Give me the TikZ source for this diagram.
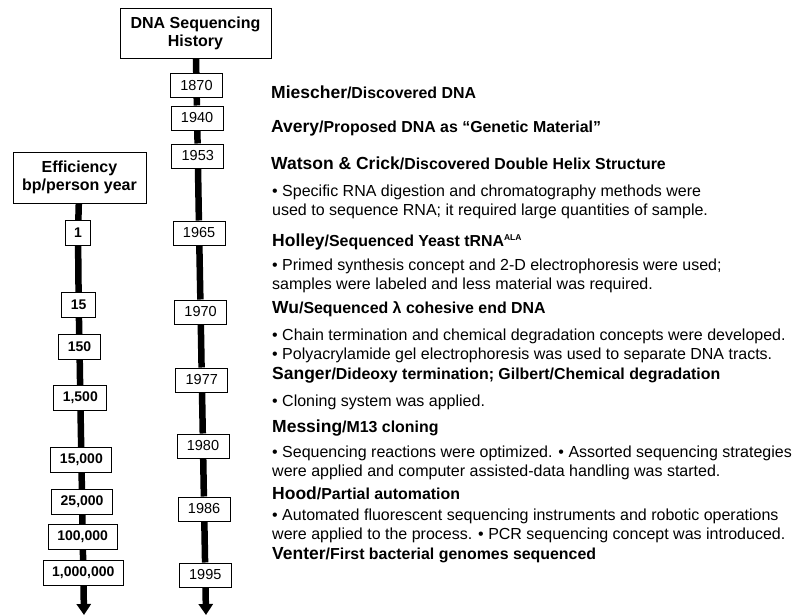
\documentclass[tikz,border=0pt]{standalone}
\usepackage{fontspec}
\setmainfont{Liberation Sans}
\usetikzlibrary{arrows.meta}

\newcommand{\bigname}[1]{{\fontsize{17.5}{19}\selectfont #1}}

\begin{document}
\begin{tikzpicture}[x=1pt,y=-1pt,
    title/.style={draw,fill=white,line width=1pt,align=center,font=\bfseries\fontsize{16}{18}\selectfont},
    yearbox/.style={draw,fill=white,line width=1pt,minimum width=52pt,minimum height=24pt,font=\fontsize{14.5}{16}\selectfont},
    ratebox/.style={draw,fill=white,line width=1pt,inner xsep=9pt,minimum height=25pt,font=\bfseries\fontsize{14}{16}\selectfont},
    spine/.style={line width=6.5pt},
    event/.style={anchor=west,inner sep=0pt,font=\bfseries\fontsize{15.9}{18}\selectfont},
    note/.style={anchor=west,inner sep=0pt,align=left,font=\fontsize{16}{19.5}\selectfont}]
  \useasboundingbox (0,0) rectangle (809,616);

  \node [title,minimum width=151pt,minimum height=50pt] at (195.5,33) (hist) {DNA Sequencing\\History};
  \node [title,minimum width=133pt,minimum height=51pt] at (79.5,177.5) (eff) {Efficiency\\bp/person year};

  % years
  \node [yearbox] at (196.5,85.5) (y1870) {1870};
  \node [yearbox] at (197.1,118) (y1940) {1940};
  \node [yearbox] at (197.8,156) (y1953) {1953};
  \node [yearbox] at (199.1,233) (y1965) {1965};
  \node [yearbox] at (200.6,312) (y1970) {1970};
  \node [yearbox] at (201.8,380) (y1977) {1977};
  \node [yearbox] at (203,446) (y1980) {1980};
  \node [yearbox] at (204.1,509) (y1986) {1986};
  \node [yearbox] at (205.3,575) (y1995) {1995};
  \coordinate (yend) at (206,615);

  % bp per person year
  \node [ratebox] at (78,233) (r1) {1};
  \node [ratebox] at (78.7,305) (r2) {15};
  \node [ratebox] at (79.5,347) (r3) {150};
  \node [ratebox] at (80.3,398) (r4) {1,500};
  \node [ratebox] at (81.4,460) (r5) {15,000};
  \node [ratebox] at (82.1,502) (r6) {25,000};
  \node [ratebox] at (82.7,537) (r7) {100,000};
  \node [ratebox] at (83.3,573) (r8) {1,000,000};
  \coordinate (rend) at (84,615);

  \foreach \a/\b in {hist/y1870,y1870/y1940,y1940/y1953,y1953/y1965,y1965/y1970,
                     y1970/y1977,y1977/y1980,y1980/y1986,y1986/y1995,
                     eff/r1,r1/r2,r2/r3,r3/r4,r4/r5,r5/r6,r6/r7,r7/r8}
    \draw [spine] (\a) -- (\b);
  \draw [spine,-{Triangle[width=14pt,length=11pt]}] (y1995) -- (yend);
  \draw [spine,-{Triangle[width=14pt,length=11pt]}] (r8) -- (rend);

  % events
  \node [event] at (271,92) (e1870) {\bigname{Miescher}/Discovered DNA};
  \node [event] at (271,128) (e1940) {\bigname{Avery}/Proposed DNA as “Genetic Material”};
  \node [event] at (271,163) (e1953) {\bigname{Watson \& Crick}/Discovered Double Helix Structure};
  \node [note] at (272,202) (n1953) {• Specific RNA digestion and chromatography methods were\\used to sequence RNA; it required large quantities of sample.};
  \node [event] at (272,242) (e1965) {\bigname{Holley}/Sequenced Yeast tRNA\textsuperscript{\fontsize{8.5}{9}\selectfont ALA}};
  \node [note] at (272,276) (n1965) {• Primed synthesis concept and 2-D electrophoresis were used;\\samples were labeled and less material was required.};
  \node [event] at (272,309) (e1970) {\bigname{Wu}/Sequenced λ cohesive end DNA};
  \node [note] at (272,346) (n1970) {• Chain termination and chemical degradation concepts were developed.\\• Polyacrylamide gel electrophoresis was used to separate DNA tracts.};
  \node [event] at (272,375) (e1977) {\bigname{Sanger}/Dideoxy termination; Gilbert/Chemical degradation};
  \node [note] at (272,402) (n1977) {• Cloning system was applied.};
  \node [event] at (272,428) (e1980) {\bigname{Messing}/M13 cloning};
  \node [note] at (272,463) (n1980) {• Sequencing reactions were optimized. • Assorted sequencing strategies\\were applied and computer assisted-data handling was started.};
  \node [event] at (272,493) (e1986) {\bigname{Hood}/Partial automation};
  \node [note] at (272,526) (n1986) {• Automated fluorescent sequencing instruments and robotic operations\\were applied to the process. • PCR sequencing concept was introduced.};
  \node [event] at (272,555) (e1995) {\bigname{Venter}/First bacterial genomes sequenced};
\end{tikzpicture}
\end{document}
